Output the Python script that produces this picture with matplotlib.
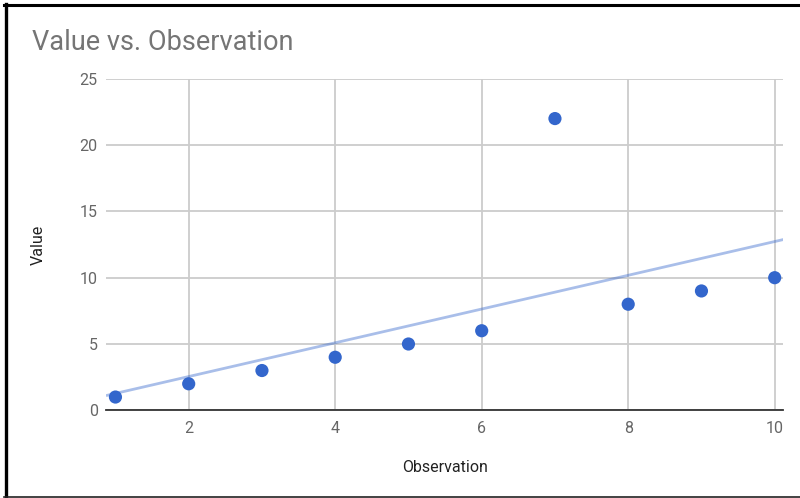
import numpy as np
import matplotlib
matplotlib.use("Agg")
import matplotlib.pyplot as plt
from matplotlib.lines import Line2D

observation = [1, 2, 3, 4, 5, 6, 7, 8, 9, 10]
value = [1, 2, 3, 4, 5, 6, 22, 8, 9, 10]
x_ticks = [2, 4, 6, 8, 10]
y_ticks = [0, 5, 10, 15, 20, 25]

plt.rcParams['font.family'] = ['Roboto', 'DejaVu Sans']

fig = plt.figure(figsize=(8.0, 4.98), dpi=100)
ax = fig.add_axes([0.1325, 0.1761, 0.8466, 0.6657])

xmin, xmax = 0.871, 10.117
ax.set_xlim(xmin, xmax)
ax.set_ylim(0, 25)

# trendline (least squares)
slope, intercept = np.polyfit(observation, value, 1)
xs = np.array([xmin, xmax])
ax.plot(xs, slope * xs + intercept, color='#3366cc', alpha=0.42, lw=2.0,
        solid_capstyle='butt', zorder=2, clip_on=True)

ax.scatter(observation, value, s=90, color='#3366cc', edgecolors='none', zorder=3, clip_on=False)

ax.set_xticks(x_ticks)
ax.set_yticks(y_ticks)
ax.grid(True, color='#cccccc', lw=1.3)
ax.set_axisbelow(True)
for s in ['top', 'right', 'left']:
    ax.spines[s].set_visible(False)
ax.spines['bottom'].set_color('#333333')
ax.spines['bottom'].set_linewidth(1.3)
ax.spines['bottom'].set_zorder(2.5)
ax.tick_params(axis='both', length=0, labelsize=11.5, labelcolor='#666666')
ax.tick_params(axis='y', pad=6)
ax.tick_params(axis='x', pad=8)

ax.set_xlabel('Observation', fontsize=11.5, color='#222222', labelpad=17)
ax.set_ylabel('Value', fontsize=11.5, color='#222222', labelpad=24)

fig.text(32/800, 1 - 50/498, 'Value vs. Observation', fontsize=19.5, color='#757575',
         ha='left', va='baseline')

# screenshot border
fig.add_artist(Line2D([5.5/800, 5.5/800], [0, 1 - 4/498], transform=fig.transFigure,
                      color='black', lw=2.4))
fig.add_artist(Line2D([4/800, 1], [1 - 5.3/498, 1 - 5.3/498], transform=fig.transFigure,
                      color='black', lw=2.2))
fig.add_artist(Line2D([4/800, 1], [1.5/498, 1.5/498], transform=fig.transFigure,
                      color='#222222', lw=1.2))

fig.savefig('out.png', dpi=100, facecolor='white')
